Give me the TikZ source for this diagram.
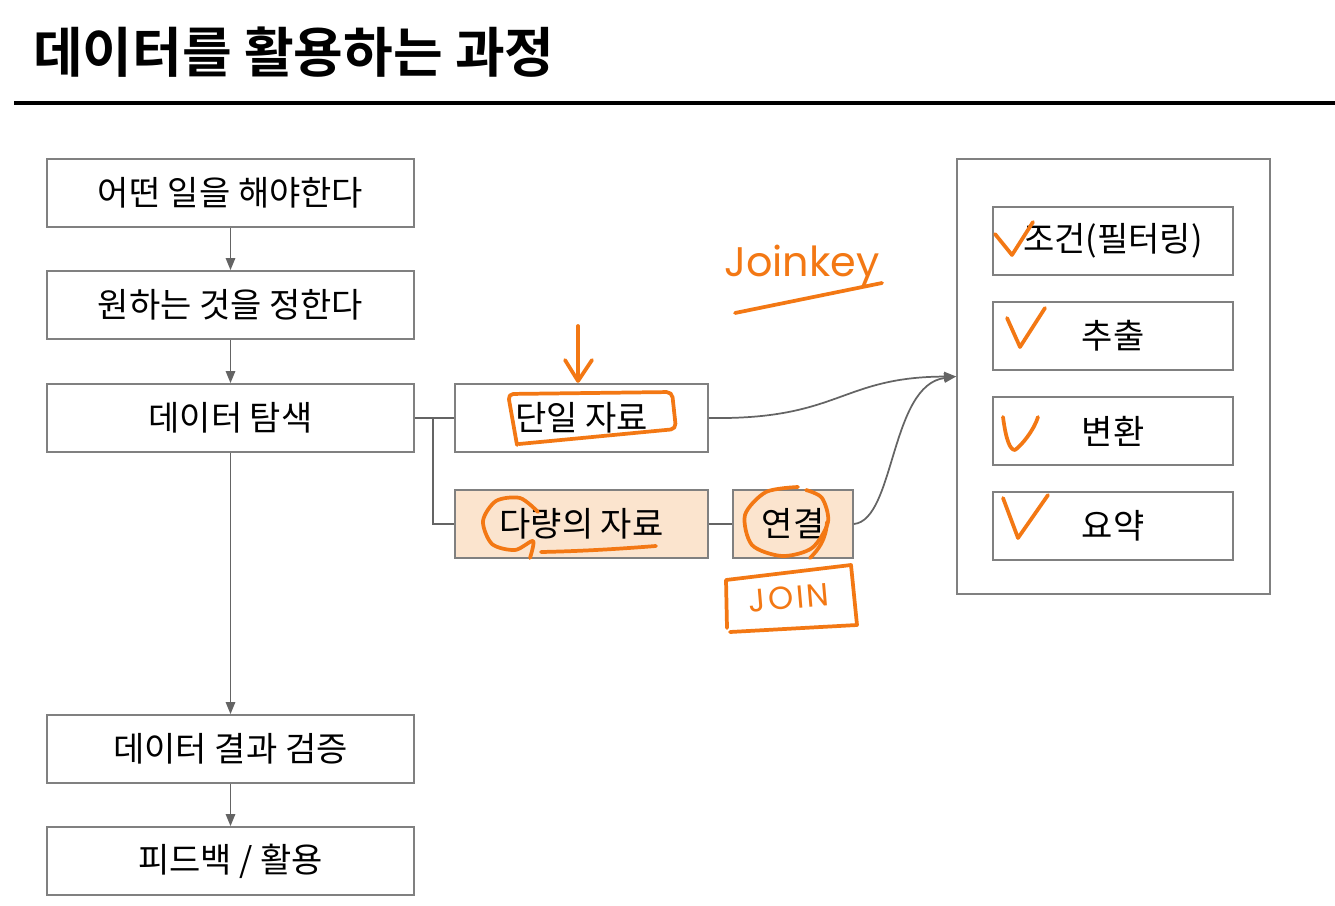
\documentclass[tikz,border=0pt]{standalone}
\usepackage{fontspec}
\setmainfont{Noto Sans CJK KR}[BoldFont={Noto Sans CJK KR Bold}]
\newfontfamily\handfont{Poppins}
\usetikzlibrary{arrows.meta,calc}
\definecolor{boxline}{RGB}{128,128,128}
\definecolor{conn}{RGB}{100,100,100}
\definecolor{peach}{RGB}{251,228,206}
\definecolor{pen}{RGB}{243,120,20}
\tikzset{
  box/.style={draw=boxline,line width=1.3pt,fill=white,minimum height=51pt,inner sep=0pt,font=\fontsize{25.5}{28}\selectfont},
  leftbox/.style={box,minimum width=275.25pt},
  midbox/.style={box,minimum width=189.75pt},
  inbox/.style={box,minimum width=180pt},
  conline/.style={draw=conn,line width=1.3pt},
  arr/.style={conline,-{Triangle[length=9pt,width=7pt]}},
  ink/.style={draw=pen,line width=2.8pt,line cap=round,line join=round},
}
\begin{document}
\begin{tikzpicture}[x=0.75pt,y=-0.75pt]
\path[fill=white] (0,0) rectangle (1335,906);
\useasboundingbox (0,0) rectangle (1335,906);
% title
\node[anchor=west,inner sep=0pt,font=\fontsize{40.5}{44}\selectfont\bfseries] (title) at (33,52) {데이터를 활용하는 과정};
\draw[line width=2.4pt] (14,103) -- (1335,103);
% left column
\node[leftbox] (b1) at (230.5,193) {어떤 일을 해야한다};
\node[leftbox] (b2) at (230.5,305) {원하는 것을 정한다};
\node[leftbox] (b3) at (230.5,418) {데이터 탐색};
\node[leftbox] (b4) at (230.5,749) {데이터 결과 검증};
\node[leftbox] (b5) at (230.5,861) {피드백 / 활용};
\draw[arr] (b1.south) -- (b2.north);
\draw[arr] (b2.south) -- (b3.north);
\draw[arr] (b3.south) -- (b4.north);
\draw[arr] (b4.south) -- (b5.north);
% middle
\node[midbox] (single) at (581.5,418) {단일 자료};
\node[midbox,fill=peach] (multi) at (581.5,524) {다량의 자료};
\node[box,fill=peach,minimum width=90pt] (link) at (793,524) {연결};
\coordinate (br) at (433,418);
\draw[conline] (b3.east) -- (single.west);
\draw[conline] (br) |- (multi.west);
\draw[conline] (multi.east) -- (link.west);
% container
\node[draw=boxline,line width=1.3pt,minimum width=234.75pt,minimum height=326.25pt,inner sep=0pt] (cont) at (1113.5,376.5) {};
\node[inbox] (c1) at (1113,241) {조건(필터링)};
\node[inbox] (c2) at (1113,336) {추출};
\node[inbox] (c3) at (1113,431) {변환};
\node[inbox] (c4) at (1113,526) {요약};
\draw[arr] (single.east) .. controls (840,420) and (840,377) .. (cont.west);
\draw[arr] (link.east) .. controls (895,520) and (890,385) .. (cont.west);
% orange handwriting
\draw[ink] (578,326) -- (578,380);
\draw[ink] (565,360) -- (578,381) -- (592,360);
\draw[ink,rounded corners=4pt] (517,445) -- (508,394) -- (672,392) -- (676,429) -- (519,444);
\draw[ink] plot[smooth] coordinates {(538,512) (520,498) (496,501) (483,521) (492,544) (515,550) (533,541) (530,558)};
\draw[ink] (541,552) .. controls (590,551) and (630,548) .. (656,546);
\draw[ink] plot[smooth] coordinates {(798,487) (766,492) (745,515) (752,545) (782,556) (812,548) (828,522) (822,498) (806,490)};
\draw[ink] (827,522) .. controls (826,540) and (818,550) .. (810,558);
\draw[ink] (727,628) -- (726,580) -- (851,565) -- (857,625) -- (730,632);
\node[text=pen,font=\handfont\fontsize{24}{26}\selectfont,rotate=5,inner sep=0pt] (join) at (789,598) {J\kern2pt O\kern2pt I\kern2pt N};
\node[text=pen,font=\handfont\fontsize{31}{34}\selectfont,inner sep=0pt] (jk) at (802,266) {Joinkey};
\draw[ink] (735,313) -- (882,283);
\draw[ink] (995,234) -- (1012,255) -- (1033,222);
\draw[ink] (1007,318) -- (1020,347) -- (1045,308);
\draw[ink] (1003,417) .. controls (1006,440) and (1010,450) .. (1015,450) .. controls (1022,445) and (1034,430) .. (1038,417);
\draw[ink] (1003,498) -- (1018,538) -- (1048,495);
\end{tikzpicture}
\end{document}
